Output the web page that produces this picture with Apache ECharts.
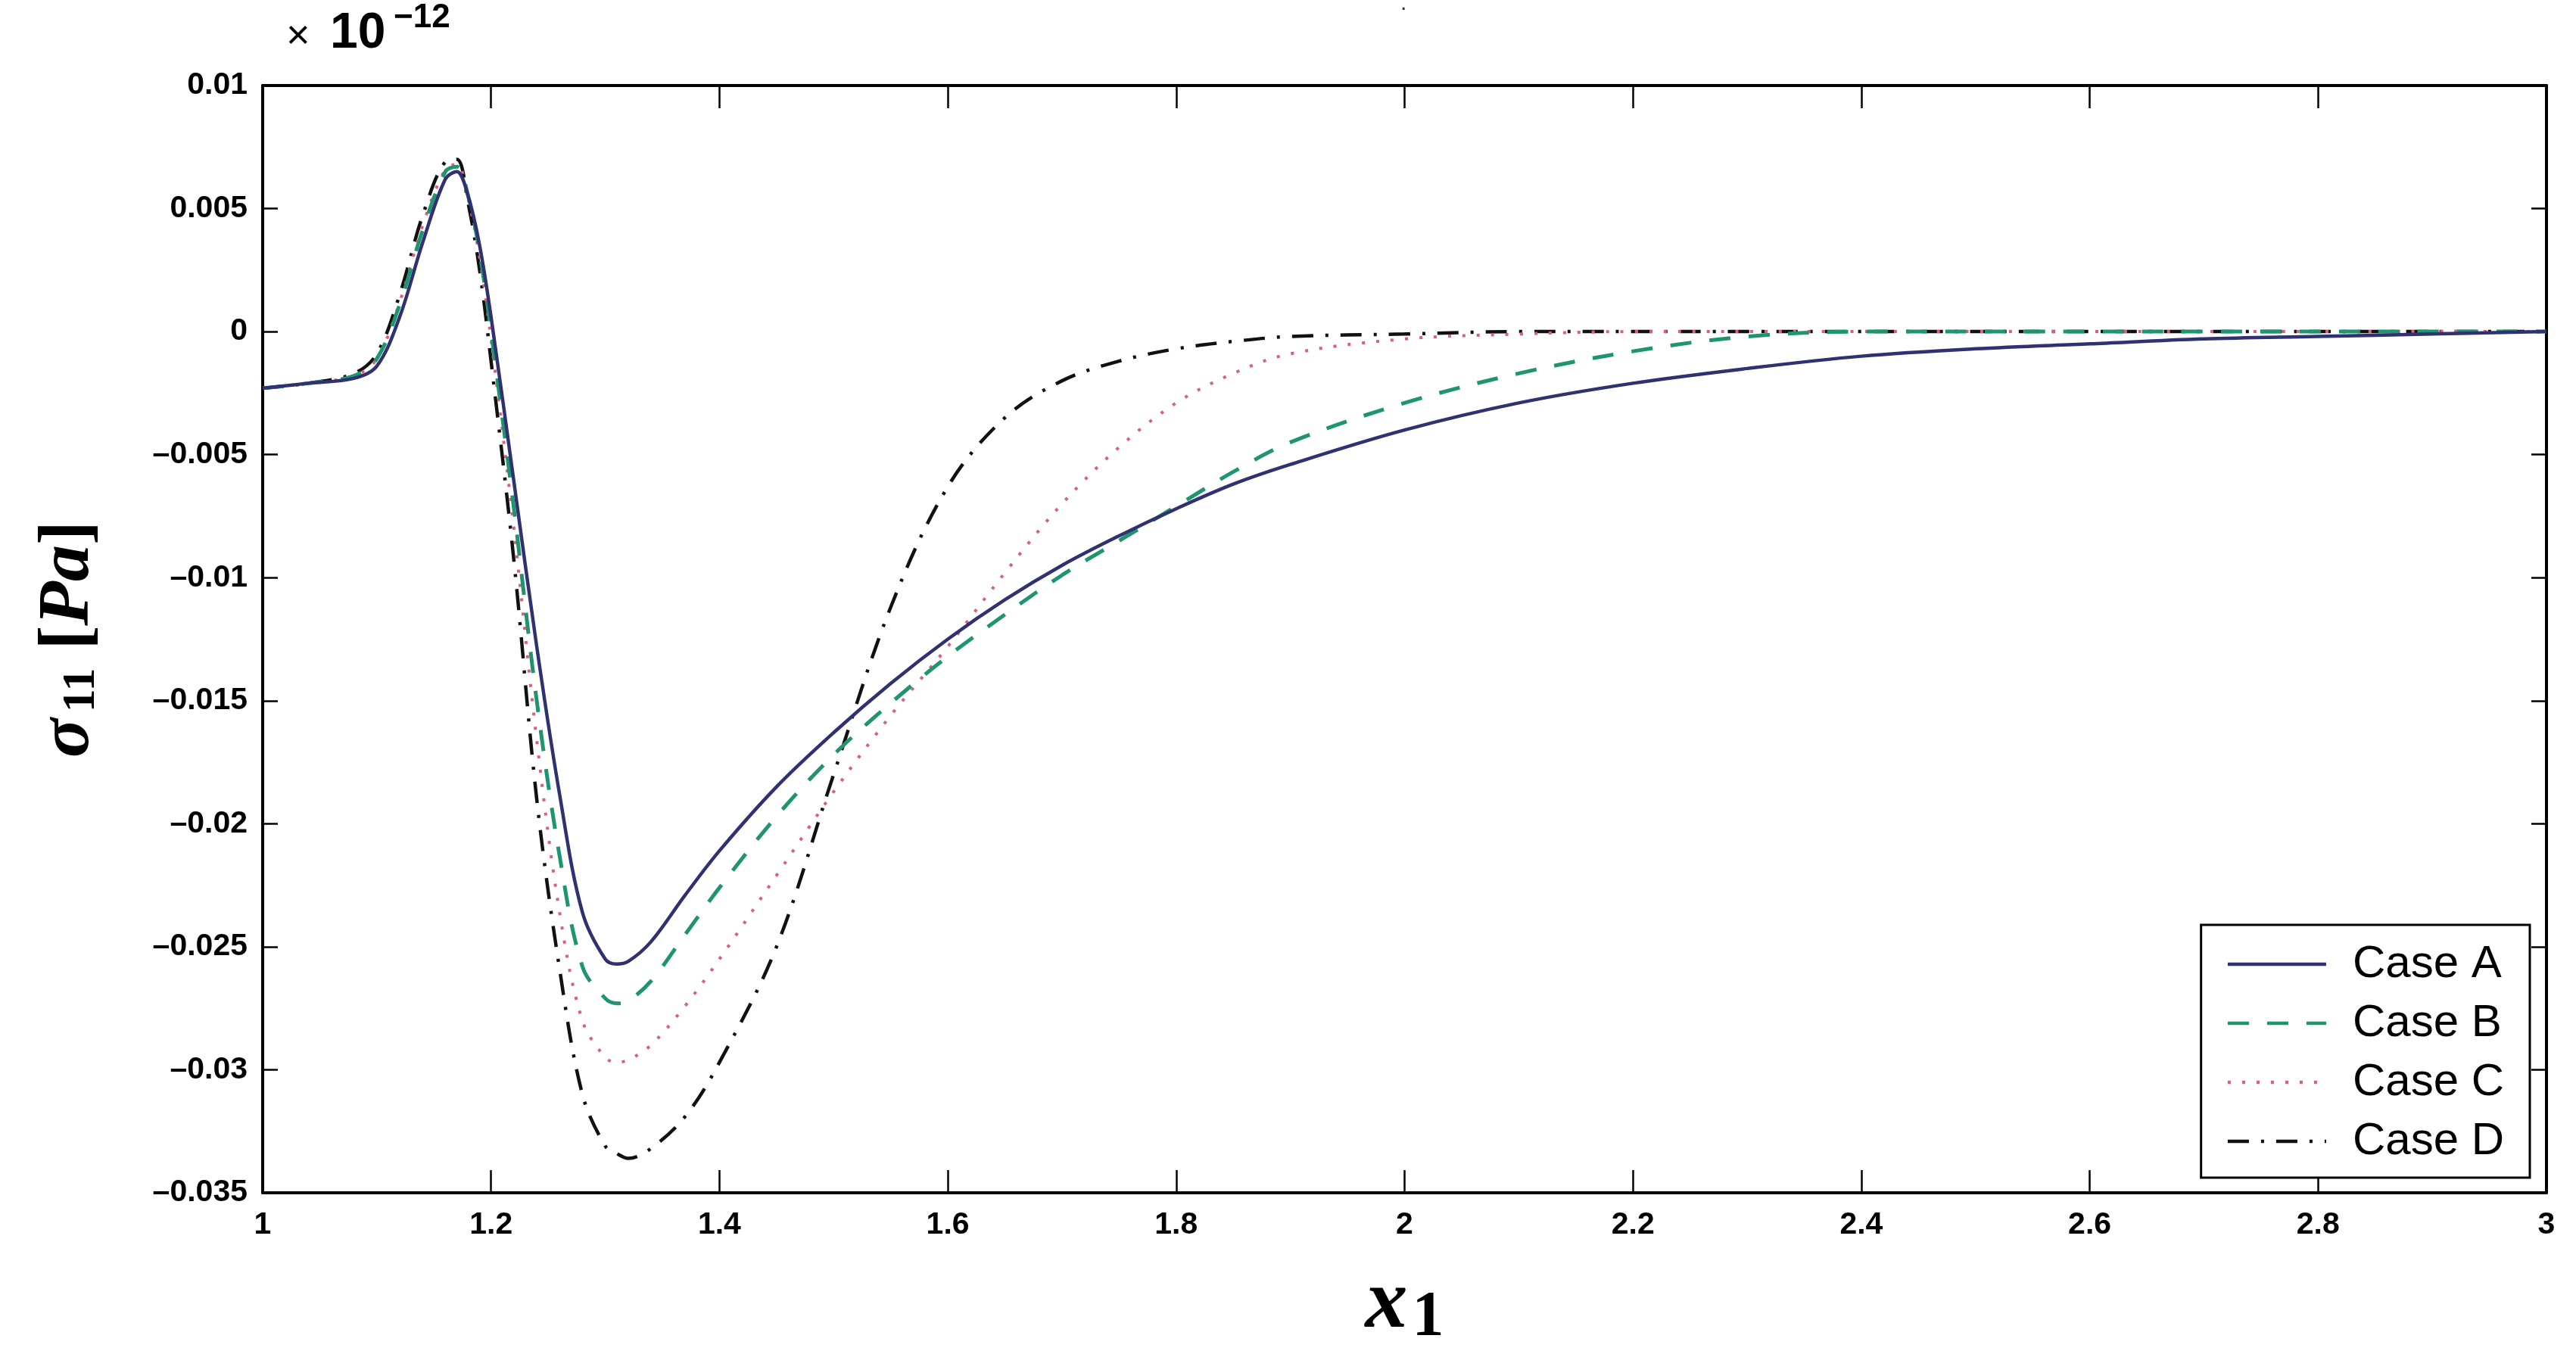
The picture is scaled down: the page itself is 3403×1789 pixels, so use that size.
<!DOCTYPE html>
<html>
<head>
<meta charset="utf-8">
<script src="https://cdn.jsdelivr.net/npm/echarts@6/dist/echarts.min.js"></script>
<style>
  html, body { margin: 0; padding: 0; background: #fff; }
  #chart { width: 3403px; height: 1789px; }
</style>
</head>
<body>
<div id="chart"></div>
<script>
// x1 positions shared by all four cases
let xs = [1.0, 1.04, 1.08, 1.1, 1.12, 1.14, 1.16, 1.17, 1.18, 1.19, 1.2, 1.22, 1.24, 1.26, 1.28,
    1.3, 1.31, 1.32, 1.34, 1.37, 1.4, 1.45, 1.5, 1.55, 1.6, 1.65, 1.7, 1.75, 1.8, 1.85, 1.9,
    2.0, 2.1, 2.2, 2.3, 2.4, 2.5, 2.6, 2.7, 2.8, 2.9, 3.0];

// sigma_11 values (x 1e-12 Pa)
let caseA = [-0.0023, -0.0021, -0.0019, -0.0014, 0.0006, 0.0036, 0.0062, 0.0065, 0.0055, 0.0035, 0.0006,
    -0.0061, -0.0128, -0.0188, -0.0236, -0.0255, -0.0257, -0.0256, -0.0248, -0.0229, -0.0211,
    -0.0185, -0.0163, -0.0143, -0.0125, -0.0109, -0.0095, -0.0083, -0.0072, -0.0062, -0.0054,
    -0.0040, -0.0029, -0.0021, -0.0015, -0.0010, -0.0007, -0.0005, -0.0003, -0.0002, -0.0001, 0];
let caseB = [-0.0023, -0.0021, -0.0018, -0.0011, 0.0011, 0.0041, 0.0065, 0.0067, 0.0055, 0.0032, 0.0000,
    -0.0072, -0.0150, -0.0213, -0.0258, -0.0271, -0.0273, -0.0272, -0.0264, -0.0245, -0.0226,
    -0.0197, -0.0172, -0.0151, -0.0132, -0.0115, -0.0099, -0.0085, -0.0071, -0.0057, -0.0045,
    -0.0029, -0.0017, -0.0008, -0.0002, 0, 0, 0, 0, 0, 0, 0];
let caseC = [-0.0023, -0.0021, -0.0018, -0.0011, 0.0012, 0.0043, 0.0066, 0.0068, 0.0054, 0.0030, -0.0003,
    -0.0080, -0.0166, -0.0236, -0.0280, -0.0295, -0.0297, -0.0296, -0.0290, -0.0274, -0.0255,
    -0.0221, -0.0187, -0.0156, -0.0128, -0.0098, -0.0070, -0.0047, -0.0029, -0.0017, -0.0009,
    -0.0003, -0.0001, 0, 0, 0, 0, 0, 0, 0, 0, 0];
let caseD = [-0.0023, -0.0021, -0.0017, -0.0009, 0.0015, 0.0047, 0.0069, 0.0070, 0.0052, 0.0025, -0.0012,
    -0.0093, -0.0190, -0.0259, -0.0310, -0.0331, -0.0334, -0.0336, -0.0332, -0.0319, -0.0297,
    -0.0250, -0.0180, -0.0112, -0.0063, -0.0035, -0.0020, -0.0012, -0.0007, -0.0004, -0.0002,
    -0.0001, 0, 0, 0, 0, 0, 0, 0, 0, 0, 0];

let caseNames = ["Case A", "Case B", "Case C", "Case D"];

let chart = echarts.init(document.getElementById("chart"));

let tickFont = "'Liberation Sans Narrow', 'Liberation Sans', Arial, sans-serif";
let mathFont = "'Liberation Serif', 'DejaVu Serif', serif";

function pairs(ys) {
    return xs.map((x, i) => [x, ys[i]]);
}

function fmtY(v) {
    if (Math.abs(v) < 1e-9) return "0";
    let s = String(+v.toFixed(3));
    return s.replace("-", "\u2013");
}

let axisLine = { show: true, onZero: false, lineStyle: { color: "#000", width: 4 } };

let option = {
    backgroundColor: "#fff",
    animation: false,
    grid: { left: 347, right: 39, top: 113, bottom: 209 },
    graphic: [
        { type: "text", left: 378, top: 22, style: { text: "\u00d7", fontSize: 54, fontFamily: tickFont, fill: "#000" } },
        { type: "text", left: 436, top: 12, style: { text: "10", fontSize: 66, fontWeight: "bold", fontFamily: tickFont, fill: "#000" } },
        { type: "text", left: 520, top: 2, style: { text: "\u221212", fontSize: 44, fontWeight: "bold", fontFamily: tickFont, fill: "#000" } },
        { type: "text", left: 1850, top: -10, style: { text: ".", fontSize: 30, fill: "#333" } }
    ],
    legend: {
        data: caseNames,
        orient: "vertical",
        right: 61,
        bottom: 233,
        itemWidth: 130,
        itemHeight: 20,
        itemGap: 18,
        padding: [22, 34, 18, 33],
        borderColor: "#000",
        borderWidth: 3,
        backgroundColor: "#fff",
        itemStyle: { opacity: 0 },
        lineStyle: { width: 4.5 },
        textStyle: { fontSize: 60, fontFamily: "'Liberation Sans', Arial, sans-serif", color: "#000", lineHeight: 56, padding: [0, 0, 0, 30] }
    },
    xAxis: [
        {
            type: "value", min: 1, max: 3, interval: 0.2,
            name: "{i|x}{s|1}", nameLocation: "middle", nameGap: 88,
            nameTextStyle: {
                rich: {
                    i: { fontSize: 112, fontFamily: mathFont, fontStyle: "italic", fontWeight: "bold", color: "#000" },
                    s: { fontSize: 84, fontFamily: mathFont, fontWeight: "bold", color: "#000", verticalAlign: "bottom", padding: [36, 0, 0, 6] }
                }
            },
            axisLine: axisLine,
            axisTick: { show: true, inside: true, length: 30, lineStyle: { color: "#000", width: 2.5 } },
            axisLabel: { fontSize: 41, fontWeight: "bold", fontFamily: tickFont, color: "#000", margin: 22,
                formatter: v => String(+v.toFixed(1)) },
            splitLine: { show: false }
        },
        {
            type: "value", min: 1, max: 3, interval: 0.2, position: "top",
            axisLine: axisLine,
            axisTick: { show: true, inside: true, length: 30, lineStyle: { color: "#000", width: 2.5 } },
            axisLabel: { show: false },
            splitLine: { show: false }
        }
    ],
    yAxis: [
        {
            type: "value", min: -0.035, max: 0.01, interval: 0.005,
            name: "{g|\u03c3}{s|11}{b| [}{g|Pa}{b|]}", nameLocation: "middle", nameGap: 208, nameRotate: 90,
            nameTextStyle: {
                rich: {
                    g: { fontSize: 96, fontFamily: mathFont, fontStyle: "italic", fontWeight: "bold", color: "#000" },
                    s: { fontSize: 62, fontFamily: mathFont, fontWeight: "bold", color: "#000", verticalAlign: "bottom", padding: [30, 0, 0, 8] },
                    b: { fontSize: 96, fontFamily: mathFont, fontWeight: "bold", color: "#000" }
                }
            },
            axisLine: axisLine,
            axisTick: { show: true, inside: true, length: 20, lineStyle: { color: "#000", width: 2.5 } },
            axisLabel: { fontSize: 41, fontWeight: "bold", fontFamily: tickFont, color: "#000", margin: 20, formatter: fmtY },
            splitLine: { show: false }
        },
        {
            type: "value", min: -0.035, max: 0.01, interval: 0.005, position: "right",
            axisLine: axisLine,
            axisTick: { show: true, inside: true, length: 20, lineStyle: { color: "#000", width: 2.5 } },
            axisLabel: { show: false },
            splitLine: { show: false }
        }
    ],
    series: [
        {
            name: "Case A", type: "line", smooth: 0.35, symbol: "none", data: pairs(caseA),
            lineStyle: { color: "#2f3170", width: 4.5, type: "solid" }, itemStyle: { color: "#2f3170" }, z: 5
        },
        {
            name: "Case B", type: "line", smooth: 0.35, symbol: "none", data: pairs(caseB),
            lineStyle: { color: "#1f9470", width: 5, type: [28, 24] }, itemStyle: { color: "#1f9470" }, z: 4
        },
        {
            name: "Case C", type: "line", smooth: 0.35, symbol: "none", data: pairs(caseC),
            lineStyle: { color: "#d8607a", width: 4, type: [4, 15] }, itemStyle: { color: "#d8607a" }, z: 3
        },
        {
            name: "Case D", type: "line", smooth: 0.35, symbol: "none", data: pairs(caseD),
            lineStyle: { color: "#111111", width: 4.5, type: [28, 16, 4, 16] }, itemStyle: { color: "#111111" }, z: 2
        }
    ]
};

chart.setOption(option);
</script>
</body>
</html>
